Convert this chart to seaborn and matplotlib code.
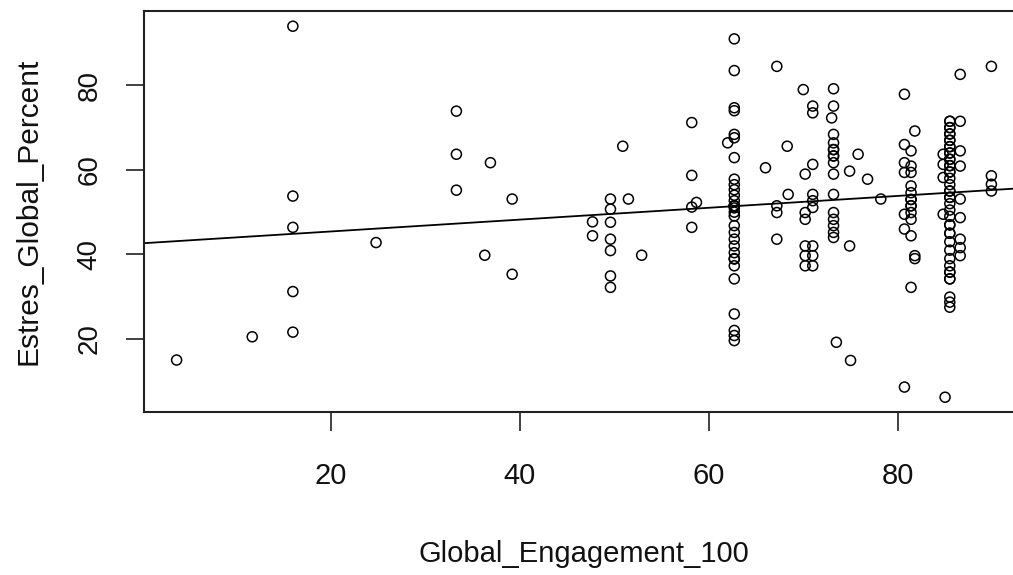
import matplotlib
matplotlib.use("Agg")
import matplotlib.pyplot as plt
from matplotlib import font_manager
import seaborn as sns
import numpy as np
import pandas as pd

# ---- data (repeated values = overplotted circles) ----
x_levels = [3.7, 11.7, 16.0, 24.8, 33.3, 36.9, 36.3, 39.2, 47.7, 49.6, 50.9, 51.5,
            52.9, 58.2, 58.7, 62.0, 62.7, 66.0, 67.2, 68.3, 68.4, 70.0, 70.2, 71.0,
            73.0, 73.2, 73.5, 74.9, 75.0, 75.8, 76.8, 78.2, 80.7, 81.4, 81.8, 84.8,
            85.0, 85.5, 86.6, 89.9]
y_groups = [
    [15.0],
    [20.5],
    [94.0, 53.8, 46.4, 31.2, 21.6],
    [42.8],
    [73.9, 63.7, 55.2],
    [61.7],
    [39.8],
    [53.1, 35.3],
    [47.7, 44.4],
    [53.1, 50.7, 47.6, 43.6, 40.9, 34.9, 32.2],
    [65.6],
    [53.1],
    [39.8],
    [71.2, 58.7, 51.2, 46.4],
    [52.3],
    [66.4],
    [91.0, 83.5, 74.7, 74.0, 68.4, 67.6, 62.9, 57.8, 56.5, 55.3, 54.0, 52.7, 51.5,
     51.5, 51.5, 51.0, 50.0, 49.1, 46.8, 45.2, 43.6, 42.0, 40.4, 39.0, 38.9, 37.3,
     34.2, 25.9, 22.0, 20.8, 19.6],
    [60.5],
    [84.5, 51.5, 49.9, 43.6],
    [65.6],
    [54.2],
    [79.0],
    [59.0, 49.9, 48.3, 42.0, 39.7, 37.3],
    [75.1, 73.5, 61.3, 54.2, 52.7, 51.1, 42.0, 39.7, 37.3],
    [72.3],
    [79.2, 75.1, 68.4, 66.4, 64.8, 64.8, 63.3, 63.3, 61.7, 59.0, 54.2, 49.9, 48.3,
     46.8, 45.2, 44.0],
    [19.2],
    [59.7, 42.0],
    [14.9],
    [63.7],
    [57.8],
    [53.1],
    [77.9, 66.0, 61.7, 59.4, 49.5, 46.0, 8.6],
    [64.5, 60.9, 59.4, 56.2, 54.6, 53.0, 53.0, 51.5, 51.5, 49.9, 48.3, 44.4, 32.2],
    [69.2, 39.7, 39.0],
    [63.7, 61.3, 58.2, 49.5],
    [6.2],
    [71.5, 71.5, 70.0, 70.0, 68.5, 68.5, 67.0, 67.0, 65.5, 65.5, 64.0, 64.0, 62.5,
     62.5, 61.0, 61.0, 59.5, 59.5, 58.0, 56.5, 55.0, 55.0, 53.5, 53.5, 52.0, 50.5,
     49.0, 47.0, 47.0, 45.0, 45.0, 43.0, 41.0, 39.0, 37.3, 35.8, 35.8, 34.2, 34.2,
     29.9, 28.7, 27.5],
    [82.6, 71.5, 64.5, 60.9, 53.1, 48.7, 43.6, 41.6, 39.7],
    [84.5, 58.6, 56.6, 55.0],
]
x_ticks = [20, 40, 60, 80]
y_ticks = [20, 40, 60, 80]
x_label = "Global_Engagement_100"
y_label = "Estres_Global_Percent"

xs, ys = [], []
for xv, grp in zip(x_levels, y_groups):
    for yv in grp:
        xs.append(xv)
        ys.append(yv)
df = pd.DataFrame({x_label: xs, y_label: ys})

# ---- style ----
sns.set_theme(style="white")
names = {f.name for f in font_manager.fontManager.ttflist}
base_font = "Liberation Sans" if "Liberation Sans" in names else "DejaVu Sans"
plt.rcParams["font.family"] = [base_font, "DejaVu Sans"]

fig = plt.figure(figsize=(10.13, 5.75), dpi=100)
ax = fig.add_axes([144 / 1013, 1 - 412 / 575, 880 / 1013, 401 / 575])

sns.scatterplot(data=df, x=x_label, y=y_label, ax=ax, marker="o",
                facecolors="none", edgecolor="black", linewidth=1.1, s=52,
                legend=False)
ax.set_xlim(0.25, 93.35)
ax.set_ylim(2.7, 97.6)
sns.regplot(data=df, x=x_label, y=y_label, ax=ax, scatter=False, ci=None,
            truncate=False, color="black", line_kws={"linewidth": 1.3})
ax.set_xlim(0.25, 93.35)
ax.set_ylim(2.7, 97.6)

for sp in ax.spines.values():
    sp.set_color("#222222")
    sp.set_linewidth(1.5)

ax.set_xticks(x_ticks)
ax.set_yticks(y_ticks)
ax.tick_params(axis="x", which="major", direction="out", length=14,
               width=1.3, color="#333333", pad=22, bottom=True)
ax.tick_params(axis="y", which="major", direction="out", length=13,
               width=1.3, color="#333333", pad=17, left=True)

ax.set_xticklabels([str(t) for t in x_ticks], fontsize=21, color="#111111")
ax.set_yticklabels([str(t) for t in y_ticks], rotation=90, va="center",
                   fontsize=20, color="#111111")
ax.set_xlabel(x_label, fontsize=21, color="#111111", labelpad=36)
ax.set_ylabel(y_label, fontsize=21.5, color="#111111", labelpad=24)

fig.savefig("out.png", dpi=100)
